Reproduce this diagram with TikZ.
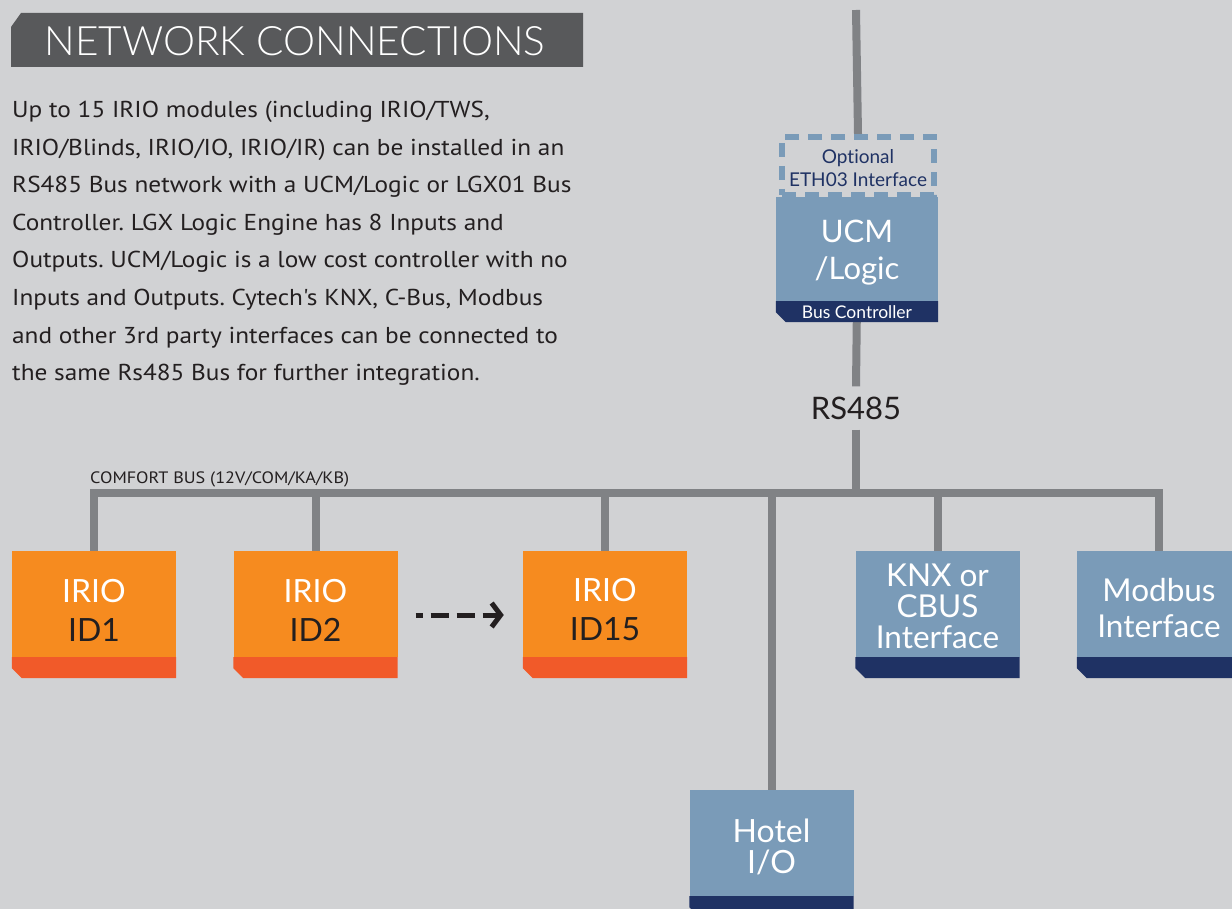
\documentclass[tikz,border=0pt]{standalone}
\usepackage{fontspec}
\setmainfont{Lato}[Ligatures={TeX,NoCommon}]
\newfontfamily\bodyfont{PT Sans}[Ligatures=NoCommon, FakeStretch=1.1]
\IfFontExistsTF{Lato Light}{\newfontfamily\titlefont{Lato Light}}{\newfontfamily\titlefont{Lato}}
\usepackage{xcolor}
\usetikzlibrary{arrows.meta, positioning, backgrounds}
\frenchspacing

\definecolor{bggray}{HTML}{D1D2D4}
\definecolor{wiregray}{HTML}{808285}
\definecolor{titlegray}{HTML}{58595B}
\definecolor{irioorange}{HTML}{F68B1F}
\definecolor{iriored}{HTML}{F15A29}
\definecolor{steel}{HTML}{7A9BB8}
\definecolor{navy}{HTML}{1F3264}
\definecolor{inkdark}{HTML}{231F20}

% band under a module, chamfered bottom left corner
\newcommand{\footband}[2]{%
  \fill[#2] (#1.south west) -- (#1.south east) -- ([yshift=-21pt]#1.south east)
    -- ([xshift=10pt,yshift=-21pt]#1.south west) -- ([yshift=-11pt]#1.south west) -- cycle;}

\begin{document}
\begin{tikzpicture}[
    x=1pt, y=-1pt,
    unit/.style={rectangle, inner sep=0pt, minimum width=164pt, minimum height=106pt},
    caption/.style={text=white, align=center, inner sep=0pt},
    irio/.style={unit, fill=irioorange, label={[caption, font=\fontsize{32}{39}\selectfont, yshift=-6pt]center:#1}},
    iface/.style={unit, fill=steel},
    wire/.style={draw=wiregray, line width=8pt},
    dasharrow/.style={draw=inkdark, line width=5pt, dash pattern=on 18pt off 8pt, dash phase=11pt, -{Straight Barb[length=9pt, width=24pt]}},
    body/.style={font=\bodyfont\fontsize{23}{37.6}\selectfont, text=inkdark, align=left, inner sep=0pt}
]
\useasboundingbox (0,0) rectangle (1232,909);
\clip (0,0) rectangle (1232,909);

% Background
\begin{scope}[on background layer]
    \fill[bggray] (0,0) rectangle (1232,909);
\end{scope}

% ==================== TITLE AND TEXT ====================
\fill[titlegray] (11,27) -- (21,13) -- (583,13) -- (583,67) -- (11,67) -- cycle;
\node[text=white, font=\titlefont\fontsize{40.5}{40.5}\selectfont] (title) at (295,41) {NETWORK CONNECTIONS};

\node[body, anchor=north west] (intro) at (12,101) {Up to 15 IRIO modules (including IRIO/TWS,\\
IRIO/Blinds, IRIO/IO, IRIO/IR) can be installed in an\\
RS485 Bus network with a UCM/Logic or LGX01 Bus\\
Controller. LGX Logic Engine has 8 Inputs and\\
Outputs. UCM/Logic is a low cost controller with no\\
Inputs and Outputs. Cytech{\char"27}s KNX, C-Bus, Modbus\\
and other 3rd party interfaces can be connected to\\
the same Rs485 Bus for further integration.};

% ==================== BUS CONTROLLER ====================
\node[rectangle, draw=steel, dashed, dash pattern=on 14pt off 9pt, line width=6pt, minimum width=152pt, minimum height=58pt,
      label={[caption, text=navy, font=\fontsize{19}{23}\selectfont, yshift=-2pt]center:{Optional\\ETH03 Interface}}] (eth) at (858,166) {};
\node[unit, fill=steel, minimum width=162pt, minimum height=104pt,
      label={[caption, font=\fontsize{31}{37}\selectfont, yshift=-4pt]center:{UCM\\/Logic}}] (ucm) at (857,249) {};
\footband{ucm}{navy}
\node[text=white, font=\fontsize{17.5}{17.5}\selectfont] (busctl) at ([yshift=-10.5pt]ucm.south) {Bus Controller};

\node[text=inkdark, font=\fontsize{31}{31}\selectfont, inner sep=10pt] (rs) at (856,408) {RS485};
\coordinate (feed) at (856,10);
\coordinate (bus) at (856,493);

\node[anchor=base west, text=inkdark, font=\bodyfont\fontsize{16.5}{16.5}\selectfont, inner sep=0pt] (buslabel) at (90,483) {COMFORT BUS (12V/COM/KA/KB)};

% ==================== MODULES ====================
\node[irio={IRIO\\\textcolor{inkdark}{ID1}}] (irio1) at (94,604) {};
\node[irio={IRIO\\\textcolor{inkdark}{ID2}}] (irio2) at (315.5,604) {};
\node[irio={IRIO\\\textcolor{inkdark}{ID15}}] (irio15) at (605,604) {};
\node[iface, label={[caption, font=\fontsize{31.5}{31}\selectfont, yshift=-2pt]center:{KNX or\\CBUS\\Interface}}] (knx) at (937.5,604) {};
\node[iface, label={[caption, font=\fontsize{31.5}{36}\selectfont, yshift=-4pt]center:{Modbus\\Interface}}] (modbus) at (1159,604) {};
\node[iface, label={[caption, font=\fontsize{32}{31}\selectfont, yshift=-4pt]center:{Hotel\\I/O}}] (hotel) at (771.5,843) {};

\foreach \n in {irio1, irio2, irio15} \footband{\n}{iriored};
\foreach \n in {knx, modbus, hotel} \footband{\n}{navy};

\draw[dasharrow] ([shift={(18pt,-11pt)}]irio2.east) -- ([shift={(-19pt,-11pt)}]irio15.west);

% ==================== WIRING ====================
\begin{scope}[on background layer]
    \draw[wire] (feed) -- (eth.north);
    \draw[wire] (ucm.south) -- (rs.north);
    \draw[wire] (rs.south) -- (bus);
    \draw[wire] (irio1.north) |- (bus) -| (modbus.north);
    \foreach \n in {irio2, irio15, hotel, knx}
        \draw[wire] (\n.north) -- (\n.north |- bus);
\end{scope}

\end{tikzpicture}
\end{document}
